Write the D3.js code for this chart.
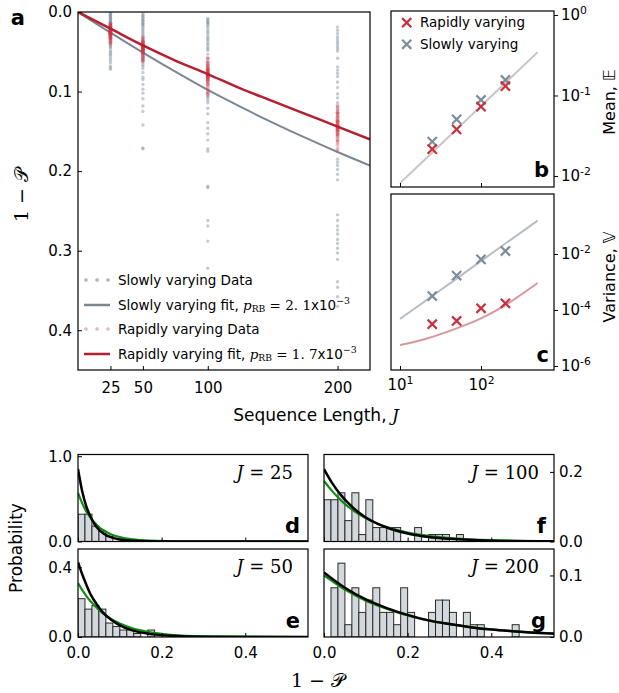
<!DOCTYPE html>
<html>
<head>
<meta charset="utf-8">
<script src="https://cdn.jsdelivr.net/npm/d3@7"></script>
<style>
body { margin: 0; background: #fff; }
svg text { font-family: "DejaVu Sans", sans-serif; fill: #000; }
.math { font-family: "DejaVu Serif", "Liberation Serif", serif; }
</style>
</head>
<body>
<svg id="fig" width="619" height="693"></svg>
<script>
/* DATA */
var seqJ = [25, 50, 100, 200];

// slowly varying: 50 sequences per length
var slow25 = [0.001, 0.002, 0.003, 0.004, 0.005, 0.006, 0.007, 0.008, 0.009, 0.010, 0.011, 0.012, 0.013, 0.014, 0.015, 0.016,
  0.017, 0.018, 0.019, 0.020, 0.021, 0.022, 0.023, 0.024, 0.025, 0.026, 0.027, 0.028, 0.029, 0.030, 0.031, 0.032,
  0.034, 0.035, 0.037, 0.039, 0.041, 0.043, 0.044, 0.046, 0.049,
  0.051, 0.053, 0.055, 0.058, 0.061, 0.064, 0.068, 0.070, 0.072];
var slow50 = [0.002, 0.004, 0.005, 0.007, 0.008, 0.010, 0.011, 0.012, 0.014, 0.015, 0.016,
  0.018, 0.020, 0.022, 0.024, 0.026, 0.028, 0.030, 0.032,
  0.034, 0.036, 0.037, 0.039, 0.041, 0.043, 0.045, 0.047, 0.049,
  0.051, 0.053, 0.055, 0.057, 0.059, 0.061, 0.063, 0.066,
  0.068, 0.071, 0.076, 0.082, 0.085, 0.091, 0.097, 0.102, 0.109, 0.118, 0.125, 0.142, 0.171, 0.172];
var slow100 = [0.008, 0.010, 0.011, 0.013, 0.014, 0.016, 0.018, 0.021, 0.024, 0.026, 0.029, 0.032,
  0.034, 0.036, 0.039, 0.041, 0.044, 0.046, 0.048, 0.053, 0.058, 0.063,
  0.068, 0.070, 0.072, 0.074, 0.077, 0.079, 0.082, 0.091,
  0.101, 0.103, 0.106, 0.108, 0.111, 0.114, 0.121, 0.128, 0.139, 0.146, 0.153, 0.161, 0.172, 0.175,
  0.219, 0.221, 0.262, 0.269, 0.288, 0.322];
var slow200 = [0.019, 0.023, 0.027, 0.031, 0.034, 0.037, 0.040, 0.043, 0.046, 0.049, 0.058,
  0.069, 0.073, 0.077, 0.081, 0.088, 0.095, 0.103, 0.108, 0.114, 0.119, 0.123, 0.127, 0.131,
  0.138, 0.145, 0.154, 0.162, 0.175, 0.185, 0.189, 0.193, 0.198, 0.204, 0.211,
  0.255, 0.262, 0.269, 0.274, 0.279, 0.286, 0.291, 0.297, 0.303, 0.311, 0.339, 0.346, 0.358, 0.370, 0.458];

// rapidly varying
var rapid25 = [0.014, 0.016, 0.017, 0.018, 0.019, 0.020, 0.021, 0.021, 0.022, 0.022, 0.023, 0.024, 0.024, 0.025, 0.025,
  0.026, 0.026, 0.027, 0.027, 0.028, 0.028, 0.029, 0.030, 0.031, 0.032, 0.033, 0.034, 0.036, 0.038, 0.040];
var rapid50 = [0.032, 0.035, 0.037, 0.038, 0.039, 0.040, 0.041, 0.042, 0.042, 0.043, 0.043, 0.044, 0.044, 0.045, 0.045,
  0.046, 0.046, 0.047, 0.047, 0.048, 0.049, 0.050, 0.050, 0.051, 0.052, 0.054, 0.056, 0.058, 0.060, 0.062];
var rapid100 = [0.058, 0.062, 0.065, 0.066, 0.068, 0.070, 0.072, 0.073, 0.074, 0.075, 0.076, 0.077, 0.078, 0.078, 0.079,
  0.080, 0.080, 0.081, 0.082, 0.083, 0.084, 0.085, 0.086, 0.087, 0.089, 0.091, 0.094, 0.097, 0.101, 0.104];
var rapid200 = [0.118, 0.122, 0.126, 0.127, 0.129, 0.132, 0.134, 0.136, 0.137, 0.138, 0.139, 0.141, 0.142, 0.143, 0.144,
  0.144, 0.145, 0.146, 0.147, 0.148, 0.149, 0.150, 0.151, 0.153, 0.155, 0.157, 0.160, 0.163, 0.167, 0.172];

// fit curves
var fitJ = [0, 25, 50, 75, 100, 125, 150, 175, 200, 225];
var slowFit = [0, 0.026, 0.051, 0.075, 0.098, 0.119, 0.139, 0.158, 0.176, 0.193];
var rapidFit = [0, 0.021, 0.042, 0.061, 0.078, 0.096, 0.112, 0.128, 0.144, 0.160];

// panel b, c
var meanRapid = [0.0216, 0.038, 0.0726, 0.131];
var meanSlow = [0.0267, 0.0506, 0.088, 0.156];
var varRapid = [3.1e-5, 4.05e-5, 1.15e-4, 1.74e-4];
var varSlow = [3.16e-4, 1.68e-3, 6.45e-3, 0.0128];
var lineJ = [10, 20, 50, 100, 200, 500];
var meanLine = [0.00815, 0.0158, 0.038, 0.074, 0.144, 0.346];
var varSlowLine = [4.8e-5, 2.0e-4, 1.32e-3, 5.6e-3, 0.0236, 0.155];
var varRapidLine = [5.6e-6, 9e-6, 2.2e-5, 5.0e-5, 1.5e-4, 9.2e-4];

// histogram model curves
var modelX25 = [0, 0.01, 0.02, 0.03, 0.04, 0.05, 0.06, 0.08, 0.1, 0.13, 0.17, 0.25, 0.55];
var black25 = [0.85, 0.59, 0.41, 0.29, 0.20, 0.14, 0.098, 0.048, 0.023, 0.008, 0.002, 0, 0];
var green25 = [0.57, 0.45, 0.35, 0.28, 0.22, 0.17, 0.135, 0.083, 0.052, 0.025, 0.01, 0.001, 0];
var modelX50 = [0, 0.01, 0.02, 0.03, 0.04, 0.05, 0.06, 0.08, 0.1, 0.13, 0.17, 0.22, 0.3, 0.55];
var black50 = [0.43, 0.36, 0.30, 0.245, 0.205, 0.17, 0.14, 0.097, 0.067, 0.038, 0.018, 0.007, 0.0016, 0];
var green50 = [0.31, 0.27, 0.235, 0.205, 0.18, 0.155, 0.135, 0.102, 0.077, 0.05, 0.028, 0.013, 0.004, 0];
var modelX100 = [0, 0.02, 0.04, 0.06, 0.08, 0.1, 0.13, 0.16, 0.2, 0.25, 0.3, 0.4, 0.55];
var black100 = [0.208, 0.167, 0.134, 0.108, 0.086, 0.069, 0.05, 0.036, 0.023, 0.013, 0.0077, 0.0025, 0.0005];
var green100 = [0.174, 0.144, 0.119, 0.098, 0.081, 0.067, 0.05, 0.038, 0.026, 0.016, 0.01, 0.0039, 0.0009];
var modelX200 = [0, 0.05, 0.1, 0.15, 0.2, 0.25, 0.3, 0.35, 0.4, 0.45, 0.5, 0.55];
var black200 = [0.105, 0.08, 0.061, 0.047, 0.036, 0.027, 0.021, 0.016, 0.012, 0.0093, 0.0071, 0.0054];
var green200 = [0.1, 0.077, 0.059, 0.046, 0.035, 0.027, 0.021, 0.016, 0.0125, 0.0097, 0.0075, 0.0058];

var aTicksY = [0, 0.1, 0.2, 0.3, 0.4];

/* COLOURS */
var RED = "#b51f2e", SLATE = "#7b8792";

var svg = d3.select("#fig");

function frame(x0, y0, x1, y1) {
  svg.append("rect")
    .attr("x", x0).attr("y", y0)
    .attr("width", x1 - x0).attr("height", y1 - y0)
    .attr("fill", "none").attr("stroke", "#000").attr("stroke-width", 1.2);
}
function clip(id, x0, y0, x1, y1) {
  svg.append("clipPath").attr("id", id).append("rect")
    .attr("x", x0).attr("y", y0).attr("width", x1 - x0).attr("height", y1 - y0);
}
function styleAxis(g, size) {
  g.select(".domain").remove();
  g.attr("font-size", size).attr("font-family", "DejaVu Sans");
  g.selectAll(".tick line").attr("stroke", "#000").attr("stroke-width", 1);
}
function letter(t, x, y) {
  svg.append("text").attr("x", x).attr("y", y).attr("text-anchor", "end")
    .attr("font-size", 21).attr("font-weight", "bold").text(t);
}
function pow10(g) {
  g.selectAll(".tick text").each(function(d) {
    var t = d3.select(this);
    t.text("10");
    t.append("tspan").attr("dy", "-0.55em").attr("font-size", "0.72em")
      .text(String(Math.round(Math.log10(d))));
  });
}
var cross = "M-4.6,-4.6L4.6,4.6M-4.6,4.6L4.6,-4.6";

/* PANEL a */
var ax = d3.scaleLinear().domain([0, 225]).range([78, 370]);
var ay = d3.scaleLinear().domain([0, 0.45]).range([12, 370]);
clip("clipA", 78, 12, 370, 370);

var slowPts = [], rapidPts = [];
[slow25, slow50, slow100, slow200].forEach(function(arr, i) {
  arr.forEach(function(v) { slowPts.push({J: seqJ[i], v: v}); });
});
[rapid25, rapid50, rapid100, rapid200].forEach(function(arr, i) {
  arr.forEach(function(v) { rapidPts.push({J: seqJ[i], v: v}); });
});

var ga = svg.append("g").attr("clip-path", "url(#clipA)");
ga.selectAll(".sdot").data(slowPts).enter().append("circle")
  .attr("class", "sdot")
  .attr("cx", function(d) { return ax(d.J); })
  .attr("cy", function(d) { return ay(d.v); })
  .attr("r", 1.7).attr("fill", "#7f8d99").attr("opacity", 0.45);

var fitLine = d3.line()
  .x(function(d, i) { return ax(fitJ[i]); })
  .y(function(d) { return ay(d); })
  .curve(d3.curveMonotoneX);
ga.append("path").attr("d", fitLine(slowFit))
  .attr("fill", "none").attr("stroke", SLATE).attr("stroke-width", 2);

ga.selectAll(".rdot").data(rapidPts).enter().append("circle")
  .attr("class", "rdot")
  .attr("cx", function(d) { return ax(d.J); })
  .attr("cy", function(d) { return ay(d.v); })
  .attr("r", 2).attr("fill", "#d8303f").attr("opacity", 0.35);

ga.append("path").attr("d", fitLine(rapidFit))
  .attr("fill", "none").attr("stroke", RED).attr("stroke-width", 2.5);

svg.append("g").attr("transform", "translate(78,0)")
  .call(d3.axisLeft(ay).tickValues(aTicksY).tickFormat(d3.format(".1f"))
    .tickSizeInner(-4).tickSizeOuter(0).tickPadding(6))
  .call(styleAxis, 15);
svg.append("g").attr("transform", "translate(0,370)")
  .call(d3.axisBottom(ax).tickValues(seqJ).tickSizeInner(-4).tickSizeOuter(0).tickPadding(12))
  .call(styleAxis, 15);
frame(78, 12, 370, 370);
letter("a", 25, 25);

// legend a
var legA = [
  {y: 280, kind: "dots", color: "#9aa3ab", label: "Slowly varying Data"},
  {y: 305, kind: "line", color: SLATE, label: "Slowly varying fit, ", p: "2. 1"},
  {y: 329, kind: "dots", color: "#d9a3a9", label: "Rapidly varying Data"},
  {y: 354, kind: "line", color: RED, label: "Rapidly varying fit, ", p: "1. 7"}
];
legA.forEach(function(d) {
  if (d.kind === "dots") {
    [86, 97, 108].forEach(function(x) {
      svg.append("circle").attr("cx", x).attr("cy", d.y).attr("r", 1.8)
        .attr("fill", d.color).attr("opacity", 0.8);
    });
  } else {
    svg.append("line").attr("x1", 84).attr("x2", 110).attr("y1", d.y).attr("y2", d.y)
      .attr("stroke", d.color).attr("stroke-width", 2.5);
  }
  var t = svg.append("text").attr("x", 118).attr("y", d.y).attr("dy", "0.35em")
    .attr("font-size", 13.5).text(d.label);
  if (d.p) {
    t.append("tspan").attr("class", "math").attr("font-style", "italic").text("p");
    t.append("tspan").attr("class", "math").attr("font-size", "0.68em").attr("dy", "0.3em").text("RB");
    t.append("tspan").attr("class", "math").attr("dy", "-0.2em").text(" = " + d.p);
    t.append("tspan").text("x10");
    t.append("tspan").attr("class", "math").attr("font-size", "0.7em").attr("dy", "-0.6em").text("\u22123");
  }
});

// axis titles a
svg.append("text").attr("class", "math")
  .attr("transform", "translate(28,195) rotate(-90)")
  .attr("text-anchor", "middle").attr("font-size", 19).text("1 \u2212 \uD835\uDCAB");
var xt = svg.append("text").attr("x", 316).attr("y", 421).attr("text-anchor", "middle")
  .attr("font-size", 17).text("Sequence Length, ");
xt.append("tspan").attr("class", "math").attr("font-style", "italic").text("J");

/* PANEL b */
var lx = d3.scaleLog().domain([7.74, 796]).range([391, 554]);
var by = d3.scaleLog().domain([Math.pow(10, -2.137), Math.pow(10, 0.05)]).range([187, 11]);
clip("clipB", 391, 11, 554, 187);
var logLine = function(yScale) {
  return d3.line()
    .x(function(d, i) { return lx(lineJ[i]); })
    .y(function(d) { return yScale(d); })
    .curve(d3.curveMonotoneX);
};
svg.append("path").attr("clip-path", "url(#clipB)").attr("d", logLine(by)(meanLine))
  .attr("fill", "none").attr("stroke", "#c6c6c6").attr("stroke-width", 2);

function crosses(data, yScale, color) {
  svg.append("g").selectAll("path").data(data).enter().append("path")
    .attr("transform", function(d, i) { return "translate(" + lx(seqJ[i]) + "," + yScale(d) + ")"; })
    .attr("d", cross).attr("stroke", color).attr("stroke-width", 2.2).attr("fill", "none");
}
crosses(meanSlow, by, "#7d8e9a");
crosses(meanRapid, by, "#c8303c");

svg.append("g").attr("transform", "translate(554,0)")
  .call(d3.axisRight(by).tickValues([1, 0.1, 0.01]).tickSizeInner(4).tickSizeOuter(0).tickPadding(3))
  .call(styleAxis, 15).call(pow10);
svg.append("g").attr("transform", "translate(0,187)")
  .call(d3.axisBottom(lx).tickValues([10, 100]).tickFormat("").tickSizeInner(-4).tickSizeOuter(0))
  .call(styleAxis, 15);
frame(391, 11, 554, 187);
letter("b", 549, 177);

// legend b
[{y: 22.7, c: "#c8303c", t: "Rapidly varying"}, {y: 44.3, c: "#7d8e9a", t: "Slowly varying"}].forEach(function(d) {
  svg.append("path").attr("transform", "translate(406.7," + d.y + ")").attr("d", cross)
    .attr("stroke", d.c).attr("stroke-width", 2.2);
  svg.append("text").attr("x", 420).attr("y", d.y).attr("dy", "0.35em").attr("font-size", 13.5).text(d.t);
});

var mt = svg.append("text").attr("transform", "translate(615,102) rotate(-90)")
  .attr("text-anchor", "middle").attr("font-size", 16).text("Mean, ");
mt.append("tspan").text("\uD835\uDD3C");

/* PANEL c */
var cy = d3.scaleLog().domain([Math.pow(10, -6.143), Math.pow(10, 0.143)]).range([370, 194]);
clip("clipC", 391, 194, 554, 370);
svg.append("path").attr("clip-path", "url(#clipC)").attr("d", logLine(cy)(varSlowLine))
  .attr("fill", "none").attr("stroke", "#b7bec5").attr("stroke-width", 2);
svg.append("path").attr("clip-path", "url(#clipC)")
  .attr("d", logLine(cy).curve(d3.curveCatmullRom)(varRapidLine))
  .attr("fill", "none").attr("stroke", "#d8979c").attr("stroke-width", 2);
crosses(varSlow, cy, "#7d8e9a");
crosses(varRapid, cy, "#c8303c");

svg.append("g").attr("transform", "translate(554,0)")
  .call(d3.axisRight(cy).tickValues([1e-2, 1e-4, 1e-6]).tickSizeInner(4).tickSizeOuter(0).tickPadding(3))
  .call(styleAxis, 15).call(pow10);
svg.append("g").attr("transform", "translate(0,370)")
  .call(d3.axisBottom(lx).tickValues([10, 100]).tickSizeInner(-4).tickSizeOuter(0).tickPadding(9))
  .call(styleAxis, 15).call(pow10);
frame(391, 194, 554, 370);
letter("c", 549, 362);

var vt = svg.append("text").attr("transform", "translate(615,277) rotate(-90)")
  .attr("text-anchor", "middle").attr("font-size", 16).text("Variance, ");
vt.append("tspan").text("\uD835\uDD4D");

/* HISTOGRAMS d-g */
var binW = 1 / 60;
var thresholds = d3.range(0, 0.55, binW);

function hist(o) {
  var hx = d3.scaleLinear().domain([0, 0.55]).range([o.x0, o.x1]);
  var hy = d3.scaleLinear().domain([0, o.top]).range([o.y1, o.y0]);
  var id = "clip" + o.letter;
  clip(id, o.x0, o.y0, o.x1, o.y1);
  var bins = d3.bin().domain([0, 0.55]).thresholds(thresholds)(o.values);
  var n = o.values.length;
  var g = svg.append("g").attr("clip-path", "url(#" + id + ")");
  g.selectAll("rect").data(bins.filter(function(b) { return b.length > 0; })).enter().append("rect")
    .attr("x", function(b) { return hx(b.x0); })
    .attr("width", function(b) { return hx(b.x1) - hx(b.x0); })
    .attr("y", function(b) { return hy(b.length / n); })
    .attr("height", function(b) { return o.y1 - hy(b.length / n); })
    .attr("fill", "#d3d8dd").attr("stroke", "#2a2a2a").attr("stroke-width", 1);
  var line = d3.line()
    .x(function(d, i) { return hx(o.mx[i]); })
    .y(function(d) { return hy(d); })
    .curve(d3.curveMonotoneX);
  g.append("path").attr("d", line(o.green)).attr("fill", "none")
    .attr("stroke", "#138a13").attr("stroke-width", 2.2);
  g.append("path").attr("d", line(o.black)).attr("fill", "none")
    .attr("stroke", "#000").attr("stroke-width", 2.5);

  if (o.side === "left") {
    svg.append("g").attr("transform", "translate(" + o.x0 + ",0)")
      .call(d3.axisLeft(hy).tickValues(o.ticks).tickFormat(d3.format(".1f"))
        .tickSizeInner(-4).tickSizeOuter(0).tickPadding(6))
      .call(styleAxis, 15);
  } else {
    svg.append("g").attr("transform", "translate(" + o.x1 + ",0)")
      .call(d3.axisRight(hy).tickValues(o.ticks).tickFormat(d3.format(".1f"))
        .tickSizeInner(-4).tickSizeOuter(0).tickPadding(5))
      .call(styleAxis, 15);
  }
  var bx = svg.append("g").attr("transform", "translate(0," + o.y1 + ")")
    .call(d3.axisBottom(hx).tickValues([0, 0.2, 0.4]).tickFormat(d3.format(".1f"))
      .tickSizeInner(-4).tickSizeOuter(0).tickPadding(10))
    .call(styleAxis, 15);
  if (!o.xlabels) bx.selectAll(".tick text").remove();
  frame(o.x0, o.y0, o.x1, o.y1);

  var jt = svg.append("text").attr("class", "math").attr("x", o.x1 - 15).attr("y", o.y0 + 24)
    .attr("text-anchor", "end").attr("font-size", 18);
  jt.append("tspan").attr("font-style", "italic").text("J");
  jt.append("tspan").text(" = " + o.J);
  letter(o.letter, o.x1 - 8, o.y1 - 9);
}

hist({values: slow25, J: 25, letter: "d", x0: 78, x1: 308, y0: 454.5, y1: 541.5, top: 1.02,
  ticks: [0, 1.0], side: "left", xlabels: false, mx: modelX25, black: black25, green: green25});
hist({values: slow50, J: 50, letter: "e", x0: 78, x1: 308, y0: 549, y1: 637, top: 0.505,
  ticks: [0, 0.4], side: "left", xlabels: true, mx: modelX50, black: black50, green: green50});
hist({values: slow100, J: 100, letter: "f", x0: 324, x1: 554, y0: 454.5, y1: 541.5, top: 0.25,
  ticks: [0, 0.2], side: "right", xlabels: false, mx: modelX100, black: black100, green: green100});
hist({values: slow200, J: 200, letter: "g", x0: 324, x1: 554, y0: 549, y1: 637, top: 0.143,
  ticks: [0, 0.1], side: "right", xlabels: true, mx: modelX200, black: black200, green: green200});

svg.append("text").attr("transform", "translate(22,548) rotate(-90)")
  .attr("text-anchor", "middle").attr("font-size", 17).text("Probability");
svg.append("text").attr("class", "math").attr("x", 318).attr("y", 687)
  .attr("text-anchor", "middle").attr("font-size", 19).text("1 \u2212 \uD835\uDCAB");
</script>
</body>
</html>
